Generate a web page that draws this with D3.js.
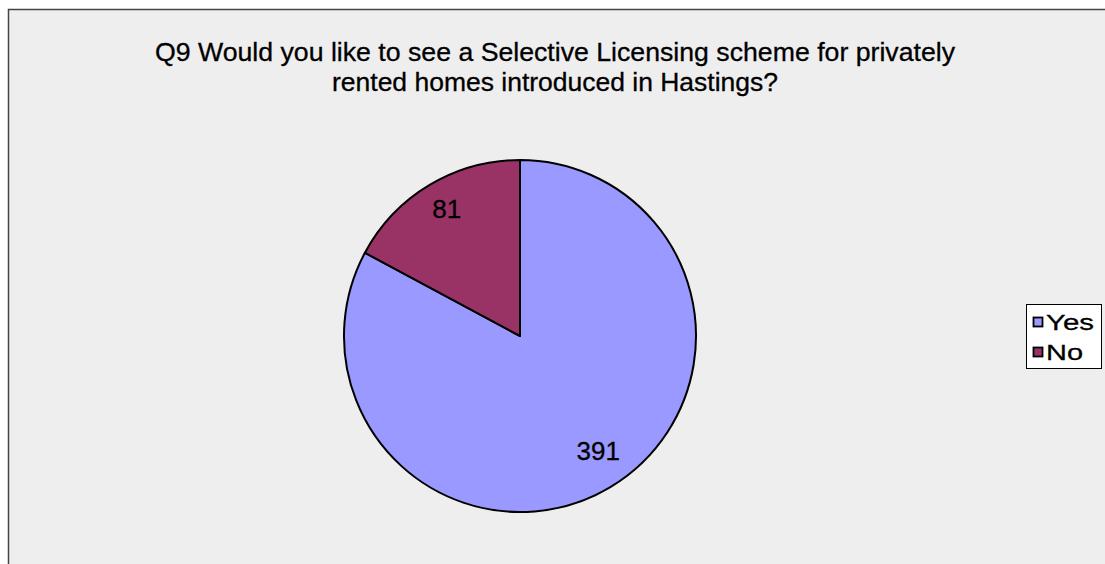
<!DOCTYPE html>
<html>
<head>
<meta charset="utf-8">
<script src="https://cdn.jsdelivr.net/npm/d3@7"></script>
<style>
  html, body { margin: 0; padding: 0; background: #ffffff; }
  svg { display: block; }
  text { font-family: "Liberation Sans", Arial, sans-serif; fill: #000; stroke: #000; stroke-width: 0.3px; }
</style>
</head>
<body>
<svg id="chart" width="1105" height="564"></svg>
<script>
// Survey responses
const categories = ["Yes", "No"];
const responses = [391, 81];
const sliceColors = ["#9999FF", "#993366"];
const titleLines = [
  "Q9 Would you like to see a Selective Licensing scheme for privately",
  "rented homes introduced in Hastings?"
];

const W = 1105, H = 564;
const svg = d3.select("#chart");

// Chart area frame (runs off the right and bottom edges)
svg.append("rect")
  .attr("x", 8.5).attr("y", 9.5)
  .attr("width", W + 20).attr("height", H + 20)
  .attr("fill", "#EEEEEE")
  .attr("stroke", "#444")
  .attr("stroke-width", 1.5);

// Title
const titleWidths = [800, 446];
svg.append("g").selectAll("text")
  .data(titleLines)
  .join("text")
  .attr("x", 555)
  .attr("y", (d, i) => 61 + i * 30)
  .attr("text-anchor", "middle")
  .attr("font-size", 26)
  .attr("textLength", (d, i) => titleWidths[i])
  .attr("lengthAdjust", "spacingAndGlyphs")
  .text(d => d);

// Pie
const cx = 520, cy = 336, r = 176;
const data = categories.map((c, i) => ({ cat: c, value: responses[i], color: sliceColors[i] }));
const pie = d3.pie().value(d => d.value).sort(null);
const arc = d3.arc().innerRadius(0).outerRadius(r);
const labelArc = d3.arc().innerRadius(r * 0.8).outerRadius(r * 0.8);
const arcs = pie(data);

const g = svg.append("g").attr("transform", `translate(${cx},${cy})`);
g.selectAll("path.slice")
  .data(arcs)
  .join("path")
  .attr("class", "slice")
  .attr("d", arc)
  .attr("fill", d => d.data.color)
  .attr("stroke", "#000")
  .attr("stroke-width", 2)
  .attr("stroke-linejoin", "round");

g.selectAll("text.val")
  .data(arcs)
  .join("text")
  .attr("class", "val")
  .attr("transform", d => {
    const [x, y] = labelArc.centroid(d);
    const shift = x > 0 ? 6 : -1;
    return `translate(${x + shift},${y - 6})`;
  })
  .attr("text-anchor", "middle")
  .attr("dy", "0.35em")
  .attr("font-size", 26)
  .text(d => d.data.value);

// Legend
const legend = svg.append("g").attr("transform", "translate(1026.5,304.5)");
legend.append("rect")
  .attr("width", 75).attr("height", 64)
  .attr("fill", "#fff")
  .attr("stroke", "#000")
  .attr("stroke-width", 1);

const legendWidths = [48, 37];
const items = legend.selectAll("g.item")
  .data(data)
  .join("g")
  .attr("class", "item")
  .attr("transform", (d, i) => `translate(0,${i * 30})`);
items.append("rect")
  .attr("x", 7).attr("y", 13)
  .attr("width", 9).attr("height", 9)
  .attr("fill", d => d.color)
  .attr("stroke", "#000")
  .attr("stroke-width", 1.8);
items.append("text")
  .attr("x", 19.5).attr("y", 25)
  .attr("font-size", 22)
  .attr("textLength", (d, i) => legendWidths[i])
  .attr("lengthAdjust", "spacingAndGlyphs")
  .text(d => d.cat);
</script>
</body>
</html>
